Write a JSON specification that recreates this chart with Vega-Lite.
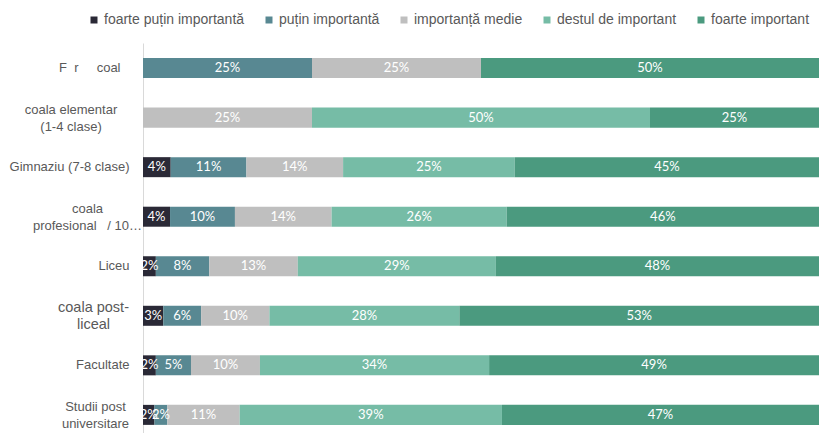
{
  "$schema": "https://vega.github.io/schema/vega-lite/v6.json",
  "autosize": "none",
  "width": 676,
  "height": 390,
  "padding": {"left": 143, "top": 43, "right": 0, "bottom": 0},
  "background": "white",
  "config": {"view": {"stroke": null}},
  "data": {
    "values": [
      {"edu": "F\u00a0\u00a0r\u00a0\u00a0\u00a0\u00a0\u00a0coal", "cat": "puțin importantă", "k": 2, "v": 0.25},
      {"edu": "F\u00a0\u00a0r\u00a0\u00a0\u00a0\u00a0\u00a0coal", "cat": "importanță medie", "k": 3, "v": 0.25},
      {"edu": "F\u00a0\u00a0r\u00a0\u00a0\u00a0\u00a0\u00a0coal", "cat": "foarte important", "k": 5, "v": 0.50},
      {"edu": "coala elementar|(1-4 clase)", "cat": "importanță medie", "k": 3, "v": 0.25},
      {"edu": "coala elementar|(1-4 clase)", "cat": "destul de important", "k": 4, "v": 0.50},
      {"edu": "coala elementar|(1-4 clase)", "cat": "foarte important", "k": 5, "v": 0.25},
      {"edu": "Gimnaziu (7-8 clase)", "cat": "foarte puțin importantă", "k": 1, "v": 0.041},
      {"edu": "Gimnaziu (7-8 clase)", "cat": "puțin importantă", "k": 2, "v": 0.112},
      {"edu": "Gimnaziu (7-8 clase)", "cat": "importanță medie", "k": 3, "v": 0.143},
      {"edu": "Gimnaziu (7-8 clase)", "cat": "destul de important", "k": 4, "v": 0.254},
      {"edu": "Gimnaziu (7-8 clase)", "cat": "foarte important", "k": 5, "v": 0.450},
      {"edu": "coala|profesional\u00a0\u00a0 / 10…", "cat": "foarte puțin importantă", "k": 1, "v": 0.040},
      {"edu": "coala|profesional\u00a0\u00a0 / 10…", "cat": "puțin importantă", "k": 2, "v": 0.096},
      {"edu": "coala|profesional\u00a0\u00a0 / 10…", "cat": "importanță medie", "k": 3, "v": 0.143},
      {"edu": "coala|profesional\u00a0\u00a0 / 10…", "cat": "destul de important", "k": 4, "v": 0.259},
      {"edu": "coala|profesional\u00a0\u00a0 / 10…", "cat": "foarte important", "k": 5, "v": 0.462},
      {"edu": "Liceu", "cat": "foarte puțin importantă", "k": 1, "v": 0.019},
      {"edu": "Liceu", "cat": "puțin importantă", "k": 2, "v": 0.079},
      {"edu": "Liceu", "cat": "importanță medie", "k": 3, "v": 0.131},
      {"edu": "Liceu", "cat": "destul de important", "k": 4, "v": 0.293},
      {"edu": "Liceu", "cat": "foarte important", "k": 5, "v": 0.478},
      {"edu": "coala post-|liceal", "cat": "foarte puțin importantă", "k": 1, "v": 0.030},
      {"edu": "coala post-|liceal", "cat": "puțin importantă", "k": 2, "v": 0.056},
      {"edu": "coala post-|liceal", "cat": "importanță medie", "k": 3, "v": 0.101},
      {"edu": "coala post-|liceal", "cat": "destul de important", "k": 4, "v": 0.281},
      {"edu": "coala post-|liceal", "cat": "foarte important", "k": 5, "v": 0.532},
      {"edu": "Facultate", "cat": "foarte puțin importantă", "k": 1, "v": 0.019},
      {"edu": "Facultate", "cat": "puțin importantă", "k": 2, "v": 0.052},
      {"edu": "Facultate", "cat": "importanță medie", "k": 3, "v": 0.102},
      {"edu": "Facultate", "cat": "destul de important", "k": 4, "v": 0.339},
      {"edu": "Facultate", "cat": "foarte important", "k": 5, "v": 0.488},
      {"edu": "Studii post|universitare", "cat": "foarte puțin importantă", "k": 1, "v": 0.017},
      {"edu": "Studii post|universitare", "cat": "puțin importantă", "k": 2, "v": 0.019},
      {"edu": "Studii post|universitare", "cat": "importanță medie", "k": 3, "v": 0.107},
      {"edu": "Studii post|universitare", "cat": "destul de important", "k": 4, "v": 0.388},
      {"edu": "Studii post|universitare", "cat": "foarte important", "k": 5, "v": 0.469}
    ]
  },
  "encoding": {
    "y": {
      "field": "edu",
      "type": "nominal",
      "sort": null,
      "scale": {"paddingInner": 0.596, "paddingOuter": 0.234, "align": 0.65},
      "axis": {
        "title": null,
        "ticks": false,
        "domainColor": "#d9d9d9",
        "domainWidth": 1,
        "labelFont": "Liberation Sans",
        "labelFontSize": {"condition": {"test": "indexof(datum.value, 'post-') >= 0", "value": 14.5}, "value": 13},
        "labelColor": "#595959",
        "labelLimit": 200,
        "labelLineHeight": 17,
        "labelExpr": "split(datum.label, '|')",
        "labelAlign": {"condition": {"test": "indexof(datum.value, '|') >= 0", "value": "center"}, "value": "right"},
        "labelOffset": {"condition": {"test": "indexof(datum.value, '|') >= 0", "value": -7.5}, "value": 0},
        "labelPadding": {
          "condition": [
            {"test": "indexof(datum.value, 'elementar') >= 0", "value": 72.5},
            {"test": "indexof(datum.value, 'profesional') >= 0", "value": 56},
            {"test": "indexof(datum.value, 'post-') >= 0", "value": 50},
            {"test": "indexof(datum.value, 'Studii') >= 0", "value": 48},
            {"test": "indexof(datum.value, 'coal') >= 0", "value": 23}
          ],
          "value": 14
        }
      }
    }
  },
  "layer": [
    {
      "mark": {"type": "bar"},
      "encoding": {
        "x": {"field": "v", "type": "quantitative", "stack": "zero", "scale": {"domain": [0, 1], "nice": false}, "axis": null},
        "color": {
          "field": "cat",
          "type": "nominal",
          "scale": {
            "domain": ["foarte puțin importantă", "puțin importantă", "importanță medie", "destul de important", "foarte important"],
            "range": ["#2a2936", "#588892", "#bfbfbf", "#76bca6", "#4b9a7f"]
          },
          "legend": {
            "orient": "none",
            "legendX": -56,
            "legendY": -30,
            "direction": "horizontal",
            "title": null,
            "padding": 0,
            "symbolType": "square",
            "symbolSize": 49,
            "symbolStrokeWidth": 0,
            "labelFont": "Liberation Sans",
            "labelFontSize": 14,
            "labelColor": "#595959",
            "labelOffset": 3,
            "labelLimit": 300,
            "columnPadding": 17
          }
        },
        "order": {"field": "k", "type": "quantitative"}
      }
    },
    {
      "mark": {"type": "text", "color": "white", "font": "Lato", "fontSize": 13, "baseline": "middle", "align": "center"},
      "encoding": {
        "x": {"field": "v", "type": "quantitative", "stack": "zero", "bandPosition": 0.5},
        "detail": {"field": "cat"},
        "order": {"field": "k", "type": "quantitative"},
        "text": {"field": "v", "type": "quantitative", "format": ".0%"}
      }
    }
  ]
}
